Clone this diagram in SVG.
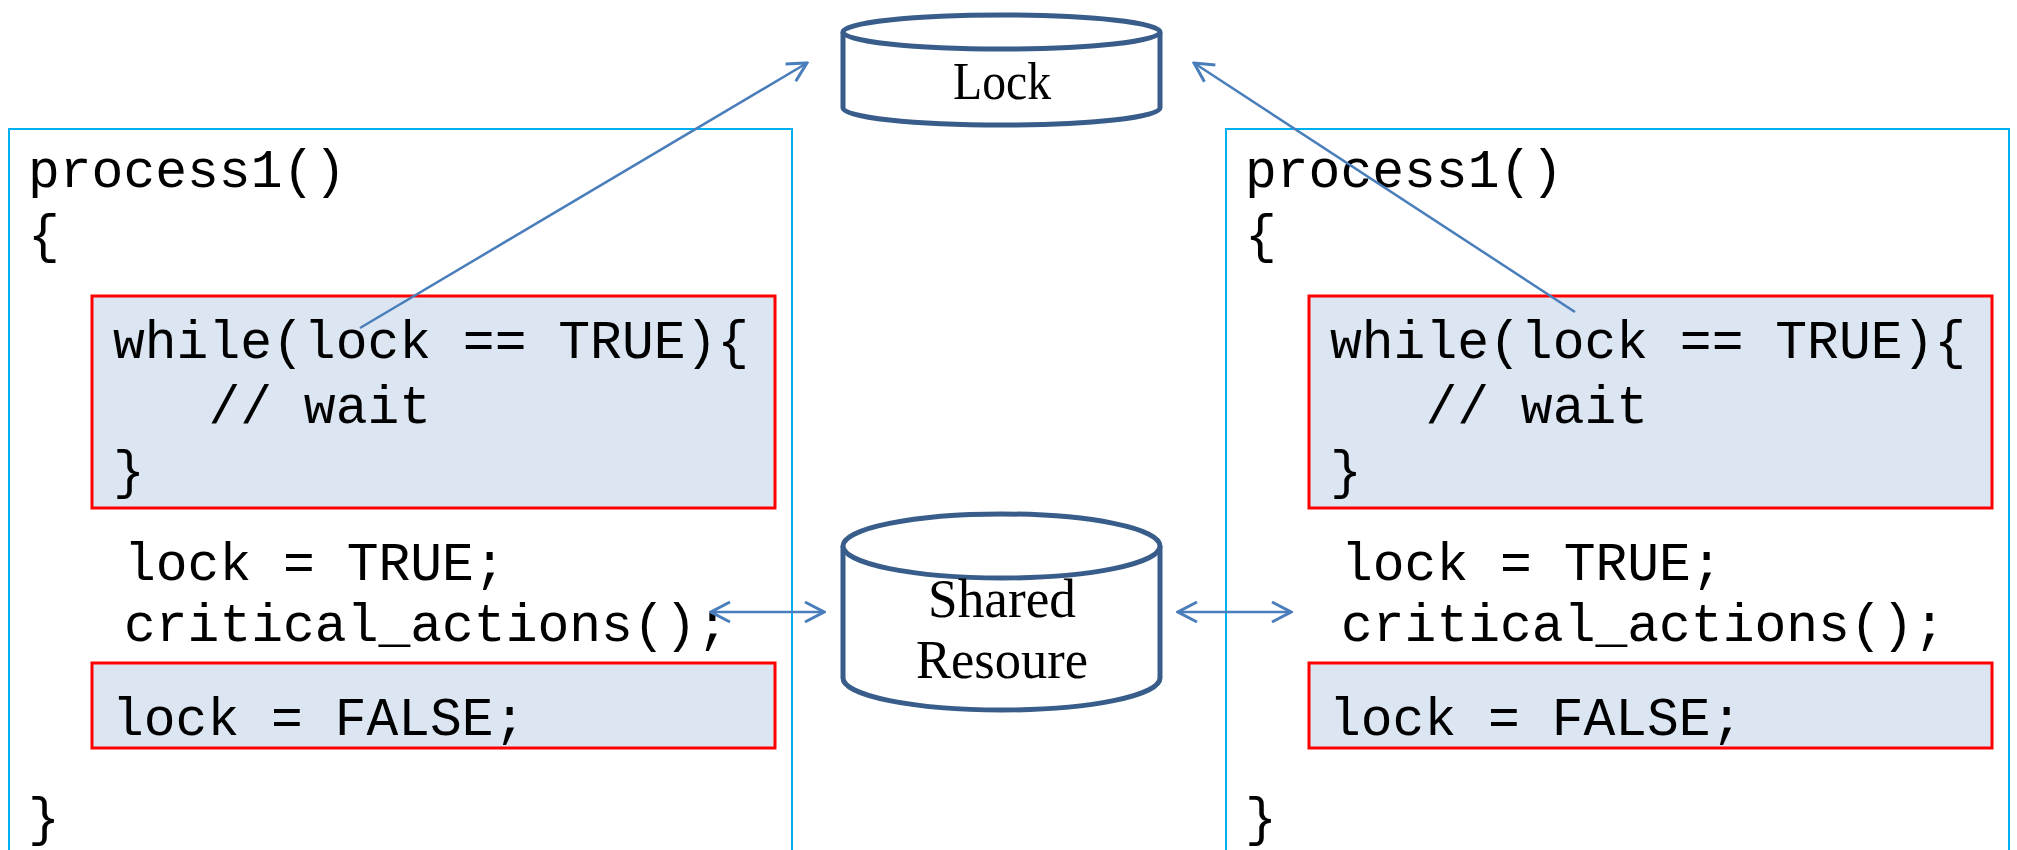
<svg xmlns="http://www.w3.org/2000/svg" width="2017" height="850" viewBox="0 0 2017 850">
  <style>
    .panel { fill: #FFFFFF; stroke: #00B0F0; stroke-width: 2; }
    .block { fill: #DCE6F2; stroke: #FF0000; stroke-width: 3; }
    .code { font-family: "Liberation Mono", "Courier New", monospace; font-size: 53px; fill: #000000; white-space: pre; }
    .cyl { fill: #FFFFFF; stroke: #385D8A; stroke-width: 5; }
    .label { font-family: "Liberation Serif", "Times New Roman", serif; fill: #000000; text-anchor: middle; }
    .link { fill: none; stroke: #4A7EBB; stroke-width: 2.5; }
  </style>
  <defs>
    <marker id="chevron" markerUnits="userSpaceOnUse" markerWidth="24" markerHeight="24" viewBox="-22 -12 24 24" refX="0" refY="0" orient="auto-start-reverse">
      <path d="M -19 -10 L 0 0 L -19 10" fill="none" stroke="#4A7EBB" stroke-width="3" stroke-linejoin="miter"/>
    </marker>
  </defs>

  <rect width="2017" height="850" fill="#FFFFFF"/>

  <!-- process panel, left -->
  <g id="process-left">
    <rect class="panel" x="9" y="129" width="783" height="740"/>
    <rect class="block" x="92" y="296" width="683" height="212"/>
    <rect class="block" x="92" y="663" width="683" height="85"/>
    <text class="code" x="28" y="187">process1()</text>
    <text class="code" x="28" y="252">{</text>
    <text class="code" x="113" y="358">while(lock == TRUE){</text>
    <text class="code" x="113" y="423">   // wait</text>
    <text class="code" x="113" y="488">}</text>
    <text class="code" x="124" y="580">lock = TRUE;</text>
    <text class="code" x="124" y="641">critical_actions();</text>
    <text class="code" x="112" y="735">lock = FALSE;</text>
    <text class="code" x="28" y="835">}</text>
  </g>

  <!-- process panel, right -->
  <g id="process-right" transform="translate(1217 0)">
    <rect class="panel" x="9" y="129" width="783" height="740"/>
    <rect class="block" x="92" y="296" width="683" height="212"/>
    <rect class="block" x="92" y="663" width="683" height="85"/>
    <text class="code" x="28" y="187">process1()</text>
    <text class="code" x="28" y="252">{</text>
    <text class="code" x="113" y="358">while(lock == TRUE){</text>
    <text class="code" x="113" y="423">   // wait</text>
    <text class="code" x="113" y="488">}</text>
    <text class="code" x="124" y="580">lock = TRUE;</text>
    <text class="code" x="124" y="641">critical_actions();</text>
    <text class="code" x="112" y="735">lock = FALSE;</text>
    <text class="code" x="28" y="835">}</text>
  </g>

  <!-- lock store -->
  <g id="lock">
    <path class="cyl" d="M 843 32 L 843 108 A 158.5 17 0 0 0 1160 108 L 1160 32"/>
    <ellipse class="cyl" cx="1001.5" cy="32" rx="158.5" ry="17"/>
    <text class="label" x="1002" y="99" font-size="52" textLength="98" lengthAdjust="spacingAndGlyphs">Lock</text>
  </g>

  <!-- shared resource store -->
  <g id="shared-resource">
    <path class="cyl" d="M 843 546 L 843 678 A 158.5 32 0 0 0 1160 678 L 1160 546"/>
    <ellipse class="cyl" cx="1001.5" cy="546" rx="158.5" ry="32"/>
    <text class="label" x="1002" y="617" font-size="55" textLength="148" lengthAdjust="spacingAndGlyphs">Shared</text>
    <text class="label" x="1002" y="678" font-size="55" textLength="172" lengthAdjust="spacingAndGlyphs">Resoure</text>
  </g>

  <!-- connectors -->
  <g id="connectors">
    <line class="link" x1="360" y1="328" x2="807" y2="63" marker-end="url(#chevron)"/>
    <line class="link" x1="1575" y1="312" x2="1194" y2="63" marker-end="url(#chevron)"/>
    <line class="link" x1="711" y1="612" x2="824" y2="612" marker-start="url(#chevron)" marker-end="url(#chevron)"/>
    <line class="link" x1="1178" y1="612" x2="1291" y2="612" marker-start="url(#chevron)" marker-end="url(#chevron)"/>
  </g>
</svg>
